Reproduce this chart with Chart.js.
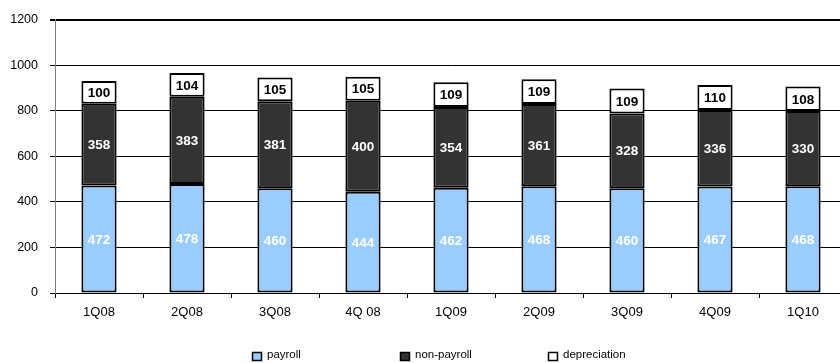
<!DOCTYPE html>
<html>
<head>
<meta charset="utf-8">
<script src="https://cdn.jsdelivr.net/npm/chart.js@4/dist/chart.umd.min.js"></script>
<style>
  html, body { margin: 0; padding: 0; background: #fff; overflow: hidden; }
  #wrap { width: 850px; height: 363px; position: relative; }
</style>
</head>
<body>
<div id="wrap"><canvas id="costChart"></canvas></div>
<script>
const quarters = ['1Q08', '2Q08', '3Q08', '4Q 08', '1Q09', '2Q09', '3Q09', '4Q09', '1Q10'];
const payroll = [472, 478, 460, 444, 462, 468, 460, 467, 468];
const nonPayroll = [358, 383, 381, 400, 354, 361, 328, 336, 330];
const depreciation = [100, 104, 105, 105, 109, 109, 109, 110, 108];
const yTicks = [0, 200, 400, 600, 800, 1000, 1200];

const FONT = '"Liberation Sans", Arial, sans-serif';

// value labels in the middle of each segment
const segmentLabels = {
    id: 'segmentLabels',
    afterDatasetsDraw(chart) {
        const c = chart.ctx;
        c.save();
        c.font = 'bold 13.5px ' + FONT;
        c.textAlign = 'center';
        c.textBaseline = 'middle';
        chart.data.datasets.forEach((ds, i) => {
            const meta = chart.getDatasetMeta(i);
            meta.data.forEach((bar, j) => {
                c.fillStyle = ds.labelColor;
                c.fillText(ds.data[j], bar.x, (bar.y + bar.base) / 2 + 1);
            });
        });
        c.restore();
    }
};

// excel-like legend with equal slots
const bottomLegend = {
    id: 'bottomLegend',
    afterDraw(chart) {
        const c = chart.ctx;
        const slot = 148;
        const start = 252;
        const y = 356;
        c.save();
        c.font = '11.5px ' + FONT;
        c.textBaseline = 'middle';
        chart.data.datasets.forEach((ds, i) => {
            const x = start + i * slot;
            c.fillStyle = ds.backgroundColor;
            c.fillRect(x, y - 4, 9, 8);
            c.strokeStyle = '#000';
            c.lineWidth = 1.5;
            c.strokeRect(x + 0.5, y - 4 + 0.5, 9, 8);
            c.fillStyle = '#000';
            c.fillText(ds.label, x + 15, y - 1);
        });
        c.restore();
    }
};

new Chart(document.getElementById('costChart'), {
    type: 'bar',
    data: {
        labels: quarters,
        datasets: [
            { label: 'payroll', data: payroll, backgroundColor: '#99CCFF', labelColor: '#fff' },
            { label: 'non-payroll', data: nonPayroll, backgroundColor: '#333333', labelColor: '#fff' },
            { label: 'depreciation', data: depreciation, backgroundColor: '#ffffff', labelColor: '#000' }
        ].map(d => Object.assign(d, {
            borderColor: '#000',
            borderWidth: 2,
            borderSkipped: false,
            barPercentage: 0.4,
            categoryPercentage: 1
        }))
    },
    options: {
        responsive: true,
        maintainAspectRatio: false,
        animation: false,
        layout: { padding: { top: 16, right: 3, left: 0, bottom: 0 } },
        plugins: {
            legend: { display: false },
            tooltip: { enabled: false }
        },
        scales: {
            x: {
                stacked: true,
                afterFit(s) { s.height = 70; },
                border: { color: '#000', width: 1 },
                grid: { drawOnChartArea: false, drawTicks: true, tickLength: 5, color: '#000' },
                ticks: { color: '#000', font: { family: FONT, size: 13 }, padding: 7, maxRotation: 0 }
            },
            y: {
                stacked: true,
                min: 0,
                max: 1200,
                afterFit(s) { s.width = 55; },
                afterBuildTicks(s) { s.ticks = yTicks.map(v => ({ value: v })); },
                border: { color: '#808080', width: 1 },
                grid: {
                    color: '#000',
                    lineWidth: ctx => (ctx.tick && ctx.tick.value === 1200 ? 2 : 1),
                    tickLength: 5
                },
                ticks: {
                    color: '#000',
                    font: { family: FONT, size: 12.5 },
                    padding: 12,
                    callback: v => String(v)
                }
            }
        }
    },
    plugins: [segmentLabels, bottomLegend]
});
</script>
</body>
</html>
